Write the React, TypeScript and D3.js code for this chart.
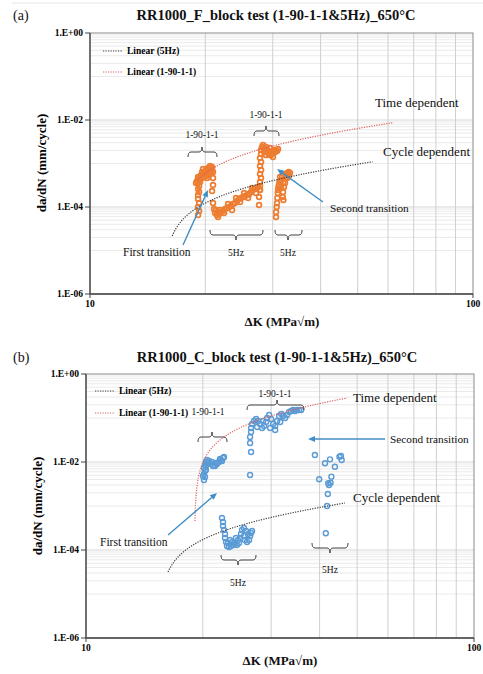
import React from 'react';
import * as d3 from 'd3';

type Pt = [number, number];

// ---------- text / ticks ----------
const TITLE_A = 'RR1000_F_block test (1-90-1-1&5Hz)_650°C';
const TITLE_B = 'RR1000_C_block test (1-90-1-1&5Hz)_650°C';
const Y_TITLE = 'da/dN (mm/cycle)';
const X_TITLE = 'ΔK (MPa√m)';
const Y_TICKS = [1, 1e-2, 1e-4, 1e-6];
const Y_TICK_LABELS = ['1.E+00', '1.E-02', '1.E-04', '1.E-06'];
const X_TICKS = [10, 100];
const X_TICK_LABELS = ['10', '100'];
const X_MINOR = [20, 30, 40, 50, 60, 70, 80, 90];
const LEGEND_LABELS = ['Linear (5Hz)', 'Linear (1-90-1-1)'];

// ---------- panel (a) data: ΔK (MPa√m), da/dN (mm/cycle) ----------
const A_BLOCK1_1901: Pt[] = [
  [19.15, 6.55e-5], [19.27, 8.1e-5], [19.15, 1.0e-4], [19.27, 1.24e-4], [19.15, 1.53e-4],
  [19.15, 1.89e-4], [19.27, 2.21e-4], [19.15, 2.59e-4], [19.27, 3.04e-4], [19.15, 3.56e-4], [19.27, 4.17e-4], [19.15, 4.9e-4],
  [19.03, 3.96e-4], [19.38, 4.64e-4], [19.5, 5.44e-4], [19.73, 5.74e-4], [19.85, 4.9e-4], [19.97, 6.38e-4], [20.21, 6.05e-4],
  [20.33, 5.44e-4], [20.46, 7.1e-4], [20.58, 6.73e-4], [20.7, 7.89e-4], [20.83, 8.32e-4], [19.62, 6.38e-4], [20.09, 5.16e-4],
  [18.92, 3.56e-4], [19.15, 4.4e-4], [19.38, 3.76e-4], [19.62, 4.64e-4], [19.85, 6.05e-4], [20.09, 7.1e-4], [20.33, 7.89e-4],
  [20.58, 8.77e-4], [20.83, 7.1e-4], [19.73, 7.48e-4], [20.21, 4.64e-4], [20.7, 6.38e-4],
  [20.95, 6.38e-4], [20.95, 4.64e-4], [20.95, 3.2e-4], [20.83, 2.33e-4],
];
const A_BLOCK1_5HZ: Pt[] = [
  [20.95, 1.24e-4], [21.08, 9.0e-5], [21.21, 7.28e-5], [21.46, 6.55e-5], [21.72, 6.9e-5], [21.98, 7.67e-5], [22.25, 8.09e-5],
  [22.52, 9.0e-5], [22.79, 9.48e-5], [23.07, 1.0e-4], [23.35, 1.05e-4], [23.63, 1.17e-4], [23.91, 1.24e-4], [24.2, 1.37e-4],
  [24.5, 1.53e-4], [24.8, 1.61e-4], [25.1, 1.7e-4], [25.4, 1.79e-4], [25.71, 1.89e-4], [26.02, 1.99e-4], [26.33, 2.21e-4],
  [26.65, 2.46e-4], [26.97, 2.59e-4], [27.3, 2.73e-4], [27.46, 2.88e-4], [27.79, 2.46e-4], [27.63, 1.7e-4], [27.63, 1.11e-4],
  [21.33, 8.53e-5], [21.85, 8.53e-5], [22.38, 7.28e-5], [22.93, 1.17e-4], [23.49, 8.53e-5], [24.06, 1.61e-4], [24.65, 1.3e-4],
  [25.25, 2.1e-4], [25.86, 1.61e-4], [26.49, 2.73e-4], [27.13, 2.1e-4], [21.59, 5.89e-5],
];
const A_BLOCK2_1901: Pt[] = [
  [27.79, 2.46e-4], [27.79, 3.04e-4], [27.79, 3.76e-4], [27.96, 4.64e-4], [27.79, 5.74e-4], [27.96, 7.1e-4], [27.79, 8.77e-4],
  [27.96, 1.08e-3], [27.79, 1.34e-3], [27.96, 1.66e-3], [27.96, 2.04e-3], [28.13, 2.4e-3],
  [28.3, 2.67e-3], [28.47, 2.27e-3], [28.64, 1.94e-3], [28.81, 2.4e-3], [28.99, 2.04e-3], [29.16, 1.75e-3], [29.34, 1.57e-3],
  [29.52, 1.84e-3], [29.69, 1.57e-3], [29.87, 1.94e-3], [30.05, 1.75e-3], [30.23, 2.04e-3], [30.41, 1.84e-3], [30.6, 2.04e-3],
  [30.78, 1.94e-3], [30.97, 2.15e-3], [28.47, 1.84e-3], [28.81, 1.57e-3], [29.52, 2.27e-3], [30.05, 1.41e-3],
];
const A_BLOCK2_5HZ: Pt[] = [
  [30.6, 5.89e-5], [30.72, 1.0e-4], [30.85, 1.61e-4], [30.93, 2.1e-4], [31.04, 2.88e-4], [31.23, 3.76e-4], [31.34, 4.9e-4],
  [31.54, 4.17e-4], [31.73, 5.16e-4], [31.98, 3.76e-4], [32.1, 2.88e-4], [32.3, 4.64e-4], [32.49, 5.74e-4], [32.75, 6.05e-4],
  [33.02, 6.38e-4], [33.28, 6.05e-4], [31.86, 1.7e-4], [31.98, 1.45e-4], [30.78, 1.24e-4], [30.97, 2.46e-4], [31.15, 3.2e-4],
  [31.54, 2.73e-4], [31.92, 2.21e-4], [32.3, 3.56e-4], [32.75, 4.64e-4], [33.08, 5.16e-4], [30.6, 7.67e-5],
];

// ---------- panel (b) data ----------
const B_BLOCK1_1901: Pt[] = [
  [20.14, 3.9e-3], [20.26, 4.56e-3], [20.14, 5.34e-3], [20.26, 6.24e-3], [20.14, 7.3e-3], [20.26, 8.55e-3], [20.38, 1.0e-2],
  [20.5, 1.11e-2], [20.75, 1.05e-2], [20.99, 9.0e-3], [21.24, 8.1e-3], [21.5, 8.1e-3], [21.75, 9.0e-3], [22.01, 1.0e-2],
  [22.28, 1.11e-2], [22.55, 1.23e-2], [22.68, 1.3e-2], [20.02, 4.81e-3], [20.38, 6.58e-3], [20.38, 8.1e-3], [20.62, 9.49e-3],
  [21.12, 1.0e-2], [21.62, 9.49e-3], [22.15, 1.17e-2], [22.41, 1.05e-2],
];
const B_BLOCK1_5HZ: Pt[] = [
  [22.41, 5.34e-4], [22.55, 4.33e-4], [22.55, 3.51e-4], [22.68, 2.85e-4], [22.82, 2.31e-4], [22.82, 1.87e-4], [22.96, 1.52e-4],
  [23.09, 1.23e-4], [23.37, 1.17e-4], [23.65, 1.23e-4], [23.93, 1.3e-4], [24.2, 1.37e-4], [24.49, 1.3e-4], [24.79, 1.44e-4],
  [24.94, 1.87e-4], [25.09, 2.31e-4], [25.24, 2.85e-4], [25.54, 3.16e-4], [25.85, 2.7e-4], [25.69, 1.69e-4], [26.0, 1.52e-4],
  [26.32, 1.69e-4], [26.48, 2.08e-4], [26.63, 2.43e-4], [26.79, 2.7e-4], [24.35, 1.87e-4], [23.51, 1.69e-4], [25.54, 2.08e-4],
  [26.16, 2.31e-4], [23.23, 1.44e-4], [23.79, 1.52e-4], [24.64, 1.69e-4],
];
const B_BLOCK2_1901: Pt[] = [
  [26.48, 5.07e-3], [26.63, 1.69e-2], [26.48, 2.7e-2], [26.48, 3.7e-2], [26.63, 4.8e-2], [26.63, 5.92e-2], [26.79, 7.3e-2],
  [27.11, 8.55e-2], [27.44, 9.49e-2], [27.77, 8.55e-2], [28.1, 7.3e-2], [28.44, 5.92e-2], [28.78, 6.58e-2], [29.12, 8.11e-2],
  [29.3, 0.1], [29.65, 0.117], [30.0, 9.49e-2], [30.37, 7.3e-2], [30.73, 6.58e-2], [31.1, 8.55e-2], [31.47, 0.111],
  [31.85, 0.123], [32.23, 0.111], [32.6, 0.1], [32.99, 0.117], [33.39, 0.137], [33.79, 0.144], [34.19, 0.152], [34.6, 0.144],
  [35.0, 0.152], [35.43, 0.152], [35.85, 0.152], [29.83, 5.92e-2], [30.73, 5.34e-2], [27.6, 6.24e-2], [28.6, 8.55e-2],
  [31.66, 8.11e-2],
];
const B_BLOCK2_5HZ: Pt[] = [
  [38.9, 1.44e-2], [41.3, 9.35e-3], [42.55, 1.15e-2], [43.8, 7.82e-3], [45.0, 1.32e-2], [45.6, 1.11e-2], [45.4, 1.37e-2],
  [39.9, 4.05e-3], [42.9, 4.64e-3], [42.1, 3.28e-3], [42.7, 3.38e-3], [42.3, 3.0e-3], [42.0, 1.87e-3], [41.8, 1.0e-3],
  [41.5, 2.4e-4],
];

// ---------- Excel "Linear" trendlines (y = slope*ΔK + intercept) ----------
const TREND_A_5HZ = { slope: 2.81e-5, intercept: -4.392e-4, kFrom: 16.4, kTo: 54.7 };
const TREND_A_1901 = { slope: 1.93e-4, intercept: -3.262e-3, kFrom: 19.0, kTo: 61.8 };
const TREND_B_5HZ = { slope: 3.77e-5, intercept: -5.817e-4, kFrom: 16.27, kTo: 46.5 };
const TREND_B_1901 = { slope: 1.016e-2, intercept: -0.1935, kFrom: 19.09, kTo: 47.1 };

const FONT = "'Liberation Serif', 'Times New Roman', serif";
const ORANGE = '#ED7D31';
const BLUE = '#5B9BD5';
const ARROW = '#3F8FC6';
const TREND_BLACK = '#3a3a3a';
const TREND_RED = '#E0605E';

type Box = { left: number; right: number; top: number; bottom: number };
type Trend = { slope: number; intercept: number; kFrom: number; kTo: number };

function Brace({ x1, x2, xc, y, dir }: { x1: number; x2: number; xc: number; y: number; dir: number }) {
  const h = 5;
  const d = `M${x1},${y - dir * h} Q${x1},${y} ${x1 + 3},${y} L${xc - 3},${y} Q${xc},${y} ${xc},${y + dir * h} Q${xc},${y} ${xc + 3},${y} L${x2 - 3},${y} Q${x2},${y} ${x2},${y - dir * h}`;
  return <path d={d} fill="none" stroke="#404040" strokeWidth={1} />;
}

function Arrow({ x1, y1, x2, y2 }: { x1: number; y1: number; x2: number; y2: number }) {
  const ang = Math.atan2(y2 - y1, x2 - x1);
  const L = 7, W = 3;
  const bx = x2 - L * Math.cos(ang), by = y2 - L * Math.sin(ang);
  const px = -Math.sin(ang) * W, py = Math.cos(ang) * W;
  return (
    <g>
      <line x1={x1} y1={y1} x2={bx} y2={by} stroke={ARROW} strokeWidth={1.4} />
      <path d={`M${x2},${y2} L${bx + px},${by + py} L${bx - px},${by - py} Z`} fill={ARROW} />
    </g>
  );
}

function Panel({ box, series, color, trends, legendX, legendY, markerR, markerW }: {
  box: Box; series: Pt[][]; color: string; trends: [Trend, Trend]; legendX: number; legendY: [number, number];
  markerR: number; markerW: number;
}) {
  const x = d3.scaleLog().domain([10, 100]).range([box.left, box.right]);
  const y = d3.scaleLog().domain([1e-6, 1]).range([box.bottom, box.top]);
  const minorY: number[] = [];
  [-5, -3, -1].forEach((e) => d3.range(1, 10).forEach((j) => minorY.push(j * Math.pow(10, e))));
  const majorY = [1e-2, 1e-4];
  const trendPath = (t: Trend) => {
    const ks = d3.range(0, 301).map((i) => t.kFrom * Math.pow(t.kTo / t.kFrom, i / 300));
    const pts = ks.map((k) => [k, t.slope * k + t.intercept] as Pt).filter((p) => p[1] > 0);
    return d3.line<Pt>().x((p) => x(p[0])).y((p) => y(p[1]))(pts) || '';
  };
  return (
    <g>
      {minorY.map((v, i) => (
        <line key={'my' + i} x1={box.left} x2={box.right} y1={y(v)} y2={y(v)} stroke="#e4e4e4" strokeWidth={0.8} />
      ))}
      {majorY.map((v, i) => (
        <line key={'My' + i} x1={box.left} x2={box.right} y1={y(v)} y2={y(v)} stroke="#d6d6d6" strokeWidth={1} />
      ))}
      {X_MINOR.map((k) => (
        <line key={'mx' + k} x1={x(k)} x2={x(k)} y1={box.top} y2={box.bottom} stroke="#cfcfcf" strokeWidth={1} />
      ))}
      <rect x={box.left} y={box.top} width={box.right - box.left} height={box.bottom - box.top} fill="none" stroke="#8a8a8a" strokeWidth={1} />
      <line x1={box.left} x2={box.left} y1={box.top} y2={box.bottom} stroke="#444" strokeWidth={1.3} />
      <line x1={box.left} x2={box.right} y1={box.bottom} y2={box.bottom} stroke="#444" strokeWidth={1.3} />
      {Y_TICKS.map((v, i) => (
        <g key={'yt' + i}>
          <line x1={box.left - 5} x2={box.left} y1={y(v)} y2={y(v)} stroke="#444" strokeWidth={1} />
          <text x={box.left - 7} y={y(v)} dy="0.35em" textAnchor="end" fontFamily={FONT} fontWeight="bold" fontSize={9.5}>{Y_TICK_LABELS[i]}</text>
        </g>
      ))}
      {X_TICKS.map((k, i) => (
        <g key={'xt' + i}>
          <line x1={x(k)} x2={x(k)} y1={box.bottom} y2={box.bottom + 4} stroke="#444" strokeWidth={1} />
          <text x={x(k)} y={box.bottom + 13} textAnchor="middle" fontFamily={FONT} fontWeight="bold" fontSize={9.5}>{X_TICK_LABELS[i]}</text>
        </g>
      ))}
      {series.map((s, si) => (
        <g key={'s' + si}>
          {s.map((p, pi) => (
            <circle key={pi} cx={x(p[0])} cy={y(p[1])} r={markerR} fill="none" stroke={color} strokeWidth={markerW} />
          ))}
        </g>
      ))}
      <path d={trendPath(trends[0])} fill="none" stroke={TREND_BLACK} strokeWidth={1.2} strokeDasharray="1.2 1.3" />
      <path d={trendPath(trends[1])} fill="none" stroke={TREND_RED} strokeWidth={1.2} strokeDasharray="1.2 1.3" />
      {[TREND_BLACK, TREND_RED].map((c, i) => (
        <g key={'lg' + i}>
          <line x1={legendX} x2={legendX + 20} y1={legendY[i]} y2={legendY[i]} stroke={c} strokeWidth={1.2} strokeDasharray="1.2 1.3" />
          <text x={legendX + 24} y={legendY[i]} dy="0.35em" fontFamily={FONT} fontWeight="bold" fontSize={9.5}>{LEGEND_LABELS[i]}</text>
        </g>
      ))}
    </g>
  );
}

const txt = (s: string, xx: number, yy: number, size: number, anchor: string = 'start', bold = false) => (
  <text x={xx} y={yy} fontFamily={FONT} fontSize={size} textAnchor={anchor} fontWeight={bold ? 'bold' : 'normal'} fill="#111">{s}</text>
);

export default function App() {
  const boxA: Box = { left: 90, right: 473, top: 33, bottom: 294 };
  const boxB: Box = { left: 86, right: 474, top: 374, bottom: 638 };
  return (
    <svg width={483} height={674} style={{ position: 'absolute', left: 0, top: 0, background: '#fff' }}>
      <rect x={0} y={0} width={483} height={674} fill="#fff" />
      <line x1={12} x2={483} y1={3} y2={3} stroke="#e6e6e6" strokeWidth={1} />
      {/* ---------- panel (a) ---------- */}
      {txt('(a)', 13, 20, 14)}
      {txt(TITLE_A, 276, 20, 14.5, 'middle', true)}
      <Panel box={boxA} series={[A_BLOCK1_1901, A_BLOCK1_5HZ, A_BLOCK2_1901, A_BLOCK2_5HZ]} color={ORANGE}
        trends={[TREND_A_5HZ, TREND_A_1901]} legendX={103} legendY={[51, 72]} markerR={2.4} markerW={1.7} />
      <text transform="translate(46,163) rotate(-90)" textAnchor="middle" fontFamily={FONT} fontWeight="bold" fontSize={13}>{Y_TITLE}</text>
      {txt(X_TITLE, 282, 326, 13, 'middle', true)}
      {txt('1-90-1-1', 202, 138, 9.5, 'middle')}
      <Brace x1={188} x2={217} xc={202} y={152} dir={-1} />
      {txt('1-90-1-1', 266, 118, 9.5, 'middle')}
      <Brace x1={254} x2={279} xc={266} y={131} dir={-1} />
      <Brace x1={210} x2={263} xc={236} y={235} dir={1} />
      {txt('5Hz', 236, 256, 9.5, 'middle')}
      <Brace x1={275} x2={302} xc={288} y={235} dir={1} />
      {txt('5Hz', 288, 256, 9.5, 'middle')}
      {txt('Time dependent', 375, 107, 13)}
      {txt('Cycle dependent', 383, 156, 13)}
      {txt('First transition', 123, 256, 11.5)}
      {txt('Second transition', 330, 212, 11.3)}
      <Arrow x1={183} y1={245} x2={208} y2={190} />
      <Arrow x1={323} y1={202} x2={277} y2={169} />

      {/* ---------- panel (b) ---------- */}
      {txt('(b)', 13, 362, 14)}
      {txt(TITLE_B, 277, 362, 14.5, 'middle', true)}
      <Panel box={boxB} series={[B_BLOCK1_1901, B_BLOCK1_5HZ, B_BLOCK2_1901, B_BLOCK2_5HZ]} color={BLUE}
        trends={[TREND_B_5HZ, TREND_B_1901]} legendX={95} legendY={[391, 413]} markerR={2.5} markerW={1.4} />
      <text transform="translate(42,506) rotate(-90)" textAnchor="middle" fontFamily={FONT} fontWeight="bold" fontSize={13}>{Y_TITLE}</text>
      {txt(X_TITLE, 280, 665, 13, 'middle', true)}
      {txt('1-90-1-1', 208, 415, 9.5, 'middle')}
      <Brace x1={198} x2={227} xc={212} y={437} dir={-1} />
      {txt('1-90-1-1', 275, 397, 9.5, 'middle')}
      <Brace x1={247} x2={304} xc={277} y={405} dir={-1} />
      <Brace x1={221} x2={256} xc={238} y={560} dir={1} />
      {txt('5Hz', 238, 586, 9.5, 'middle')}
      <Brace x1={312} x2={348} xc={330} y={548} dir={1} />
      {txt('5Hz', 330, 573, 9.5, 'middle')}
      {txt('Time dependent', 353, 402, 13)}
      {txt('Cycle dependent', 353, 502, 13)}
      {txt('First transition', 100, 546, 11.5)}
      {txt('Second transition', 390, 443, 11.3)}
      <Arrow x1={168} y1={535} x2={217} y2={493} />
      <Arrow x1={385} y1={439} x2={308} y2={439} />
    </svg>
  );
}
